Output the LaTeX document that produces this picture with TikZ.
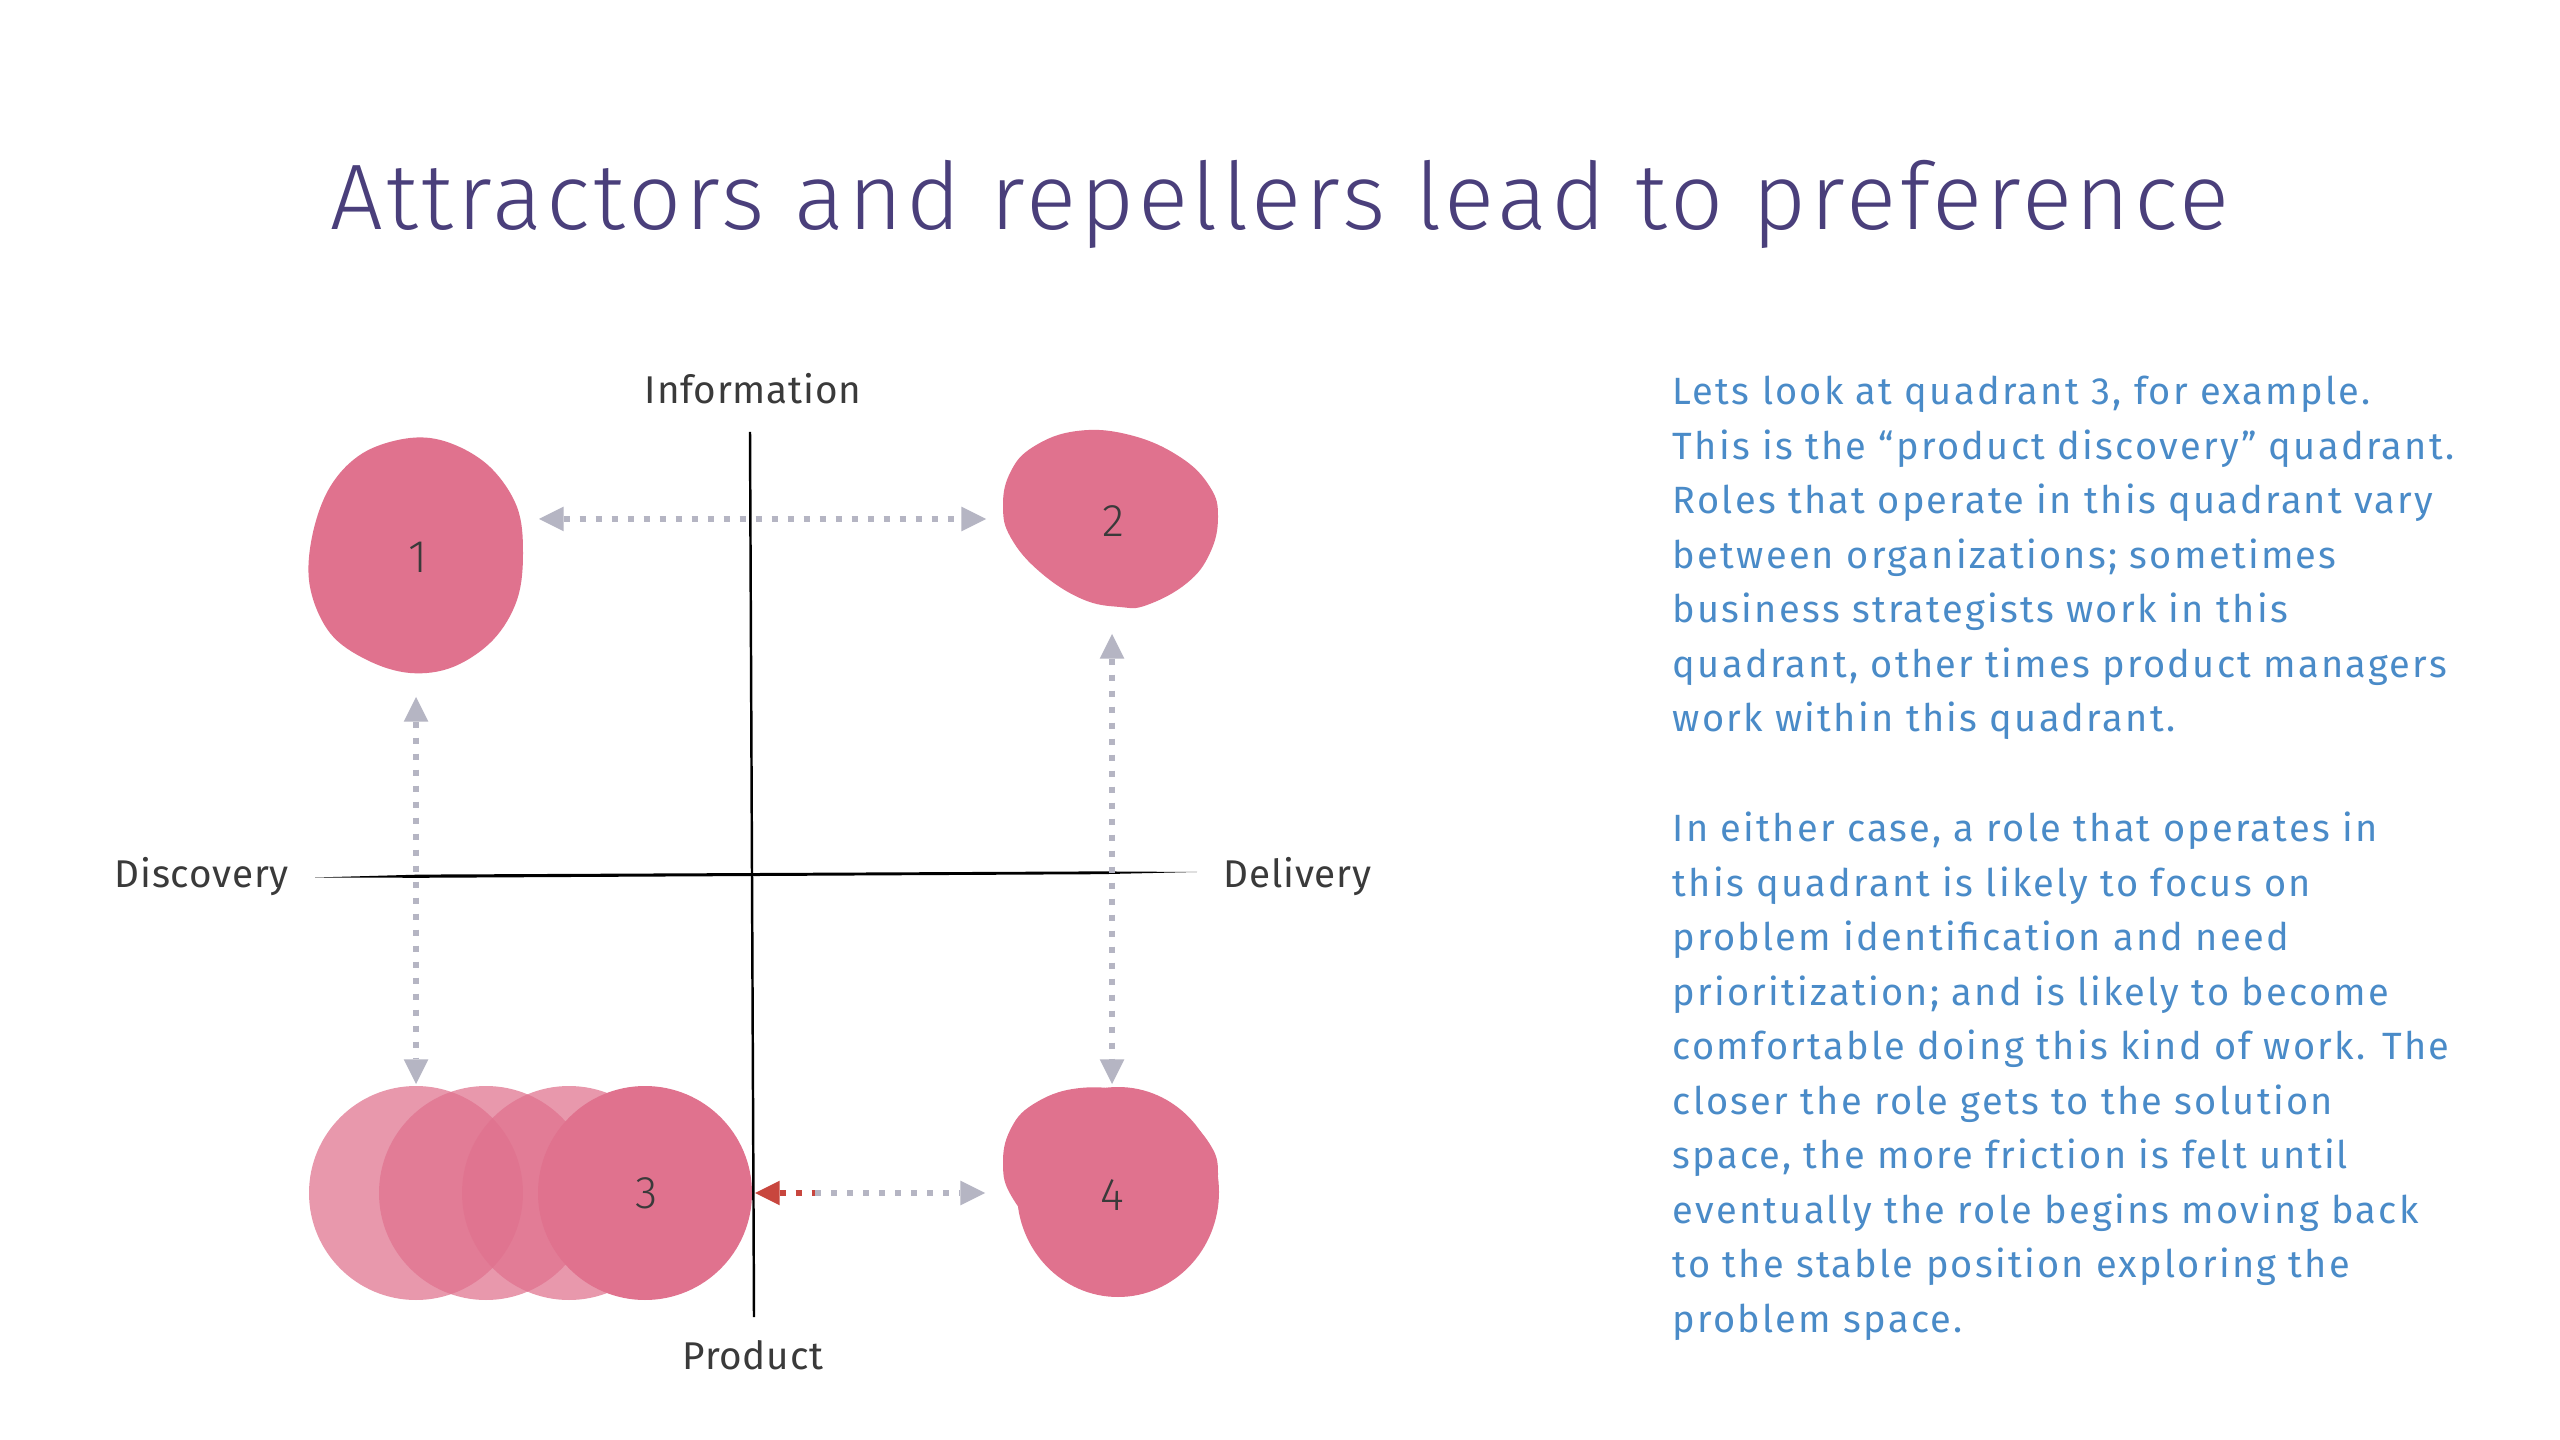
\documentclass[tikz,border=0pt]{standalone}
\usepackage{fontspec}
\setmainfont{Fira Sans}
\newfontfamily\lightfont{Fira Sans Light}
\newfontfamily\titlefont[LetterSpace=4]{Fira Sans Light}
\newfontfamily\parafont[LetterSpace=6]{Fira Sans}
\newfontfamily\axisfont[LetterSpace=2]{Fira Sans}
\usetikzlibrary{arrows.meta}
\definecolor{pinkc}{HTML}{E0728E}
\definecolor{titlec}{HTML}{4A3F7B}
\definecolor{textc}{HTML}{4A8BC8}
\definecolor{labc}{HTML}{3A3A3A}
\definecolor{arrc}{HTML}{B5B5C3}
\definecolor{redc}{HTML}{C8463E}
\tikzset{
  axislabel/.style={font=\axisfont\fontsize{11}{13}\selectfont, text=labc, inner sep=0pt},
  numlabel/.style={font=\lightfont\fontsize{13}{15}\selectfont, text=labc, inner sep=0pt},
  para/.style={font=\parafont\fontsize{10.8}{15.5}\selectfont, text=textc, align=left, inner sep=0pt, anchor=base west},
  dotline/.style={line width=1.7pt, dash pattern=on 1.7pt off 2.85pt},
  garrow/.style={dotline, draw=arrc, arrows={Triangle[length=7pt,width=7pt,fill=arrc,line width=0pt]-Triangle[length=7pt,width=7pt,fill=arrc,line width=0pt]}},
  ghost/.style={fill=pinkc, fill opacity=0.73}
}
\begin{document}
\begin{tikzpicture}[x=0.01cm,y=-0.01cm]
\useasboundingbox (0,0) rectangle (2560,1440);
\fill[white] (0,0) rectangle (2560,1440);
% title
\node[font=\titlefont\fontsize{26.5}{30}\selectfont, text=titlec, anchor=base, inner sep=0pt] (title) at (1280,230) {Attractors and repellers lead to preference};
% axes
\draw[black, line width=0.7pt] (750,432) -- (754,1317);
\fill[black] (315,877.5) -- (420,874.6) -- (1100,871.4) -- (1197,872) -- (1100,874.2) -- (420,877.8) -- cycle;
% axis labels
\node[axislabel, anchor=base] (info) at (753,404) {Information};
\node[axislabel, anchor=base] (prod) at (753,1369) {Product};
\node[axislabel, anchor=base west] (disc) at (114,887) {Discovery};
\node[axislabel, anchor=base west] (deli) at (1223,887) {Delivery};
% blob 1
\fill[pinkc] plot[smooth cycle, tension=0.6] coordinates {(410,438) (450,443) (490,467) (517,507) (523,553) (517,600) (493,640) (453,667) (410,673) (367,660) (330,633) (310,587) (312,537) (330,487) (363,453)};
% blob 2
\fill[pinkc] plot[smooth cycle, tension=0.7] coordinates {(1077,431) (1130,435) (1180,457) (1210,487) (1218,517) (1210,553) (1187,583) (1147,605) (1120,607) (1082,599) (1040,572) (1011,538) (1003,507) (1010,473) (1033,447)};
% blob 3 group
\fill[ghost] (416,1193) circle[radius=107];
\fill[ghost] (486,1193) circle[radius=107];
\fill[ghost] (569,1193) circle[radius=107];
\fill[pinkc] (645,1193) circle[radius=107];
% blob 4 (blob 2 outline shifted down, plus a larger lower part)
\begin{scope}[yshift=-6.57cm]
\fill[pinkc] plot[smooth cycle, tension=0.7] coordinates {(1077,431) (1130,435) (1180,457) (1210,487) (1218,517) (1210,553) (1187,583) (1147,605) (1120,607) (1082,599) (1040,572) (1011,538) (1003,507) (1010,473) (1033,447)};
\end{scope}
\fill[pinkc] (1118,1192) ellipse[x radius=101, y radius=105];
% number labels
\node[numlabel] (q1) at (418,557) {1};
\node[numlabel] (q2) at (1113,521) {2};
\node[numlabel] (q3) at (647,1193) {3};
\node[numlabel] (q4) at (1112,1195) {4};
% arrow endpoints
\coordinate (t1) at (539,519);
\coordinate (t2) at (986,519);
\coordinate (l1) at (416,697);
\coordinate (l3) at (416,1084);
\coordinate (r2) at (1112,634);
\coordinate (r4) at (1112,1084);
\coordinate (b3) at (755,1193);
\coordinate (bm) at (815,1193);
\coordinate (b4) at (985,1193);
\draw[garrow] (t1) -- (t2);
\draw[garrow] (l1) -- (l3);
\draw[garrow] (r2) -- (r4);
\draw[dotline, draw=redc, arrows={Triangle[length=7pt,width=7pt,fill=redc,line width=0pt]-}] (b3) -- (bm);
\draw[dotline, draw=arrc, arrows={-Triangle[length=7pt,width=7pt,fill=arrc,line width=0pt]}] (bm) -- (b4);
% paragraphs
\node[para] (p1) at (1672,732) {Lets look at quadrant 3, for example.\\
This is the “product discovery” quadrant.\\
Roles that operate in this quadrant vary\\
between organizations; sometimes\\
business strategists work in this\\
quadrant, other times product managers\\
work within this quadrant.};
\node[para] (p2) at (1672,1332.5) {In either case, a role that operates in\\
this quadrant is likely to focus on\\
problem identification and need\\
prioritization; and is likely to become\\
comfortable doing this kind of work. The\\
closer the role gets to the solution\\
space, the more friction is felt until\\
eventually the role begins moving back\\
to the stable position exploring the\\
problem space.};
\end{tikzpicture}
\end{document}
